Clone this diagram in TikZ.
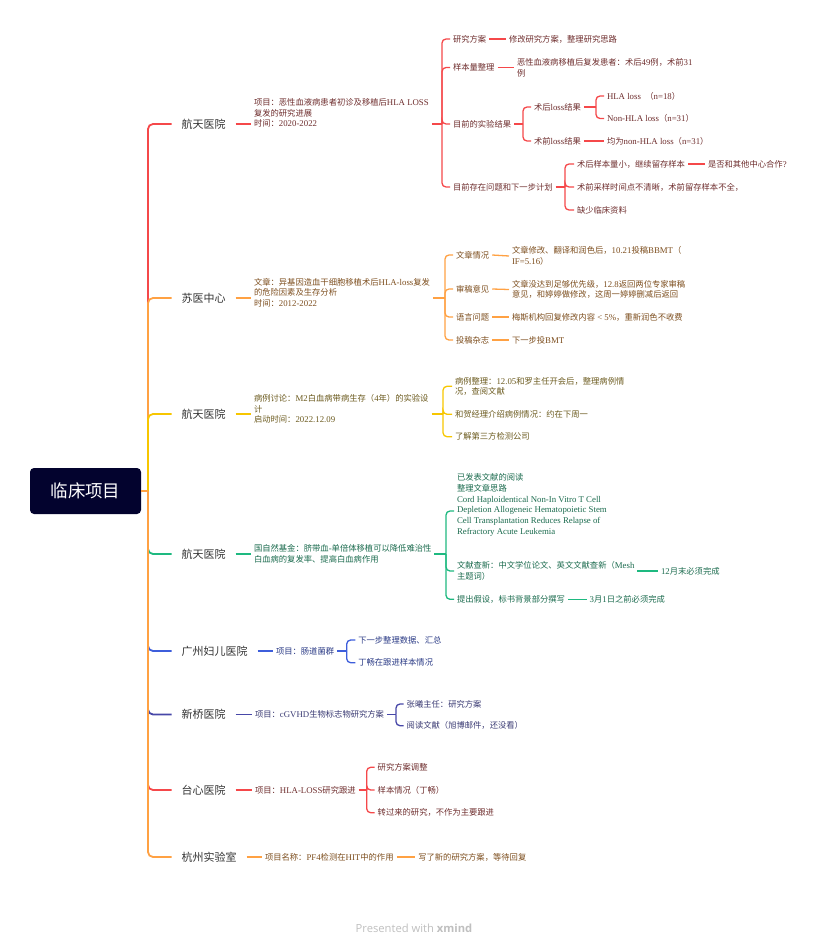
\documentclass[tikz,border=0pt]{standalone}
\usepackage{fontspec}
\setmainfont{Liberation Serif}
\newfontfamily\cjk[Scale=0.9444]{Noto Sans CJK SC}
\newfontfamily\wmfont{Open Sans}
% Chinese characters switch to the CJK font by themselves
\XeTeXinterchartokenstate=1
\newXeTeXintercharclass\cjkclass
\newcount\cjkc
\cjkc="3000
\loop\XeTeXcharclass\cjkc=\cjkclass\ifnum\cjkc<"9FFF\advance\cjkc by 1\repeat
\cjkc="FF00
\loop\XeTeXcharclass\cjkc=\cjkclass\ifnum\cjkc<"FFEF\advance\cjkc by 1\repeat
\XeTeXinterchartoks 0 \cjkclass={\begingroup\cjk}
\XeTeXinterchartoks 4095 \cjkclass={\begingroup\cjk}
\XeTeXinterchartoks \cjkclass 0={\endgroup}
\XeTeXinterchartoks \cjkclass 4095={\endgroup}

\definecolor{rootnavy}{HTML}{03032E}
\definecolor{headgray}{HTML}{333333}
\definecolor{lred}{HTML}{F5484A}
\definecolor{lorange}{HTML}{FFA143}
\definecolor{lyellow}{HTML}{F7C600}
\definecolor{lgreen}{HTML}{1EB980}
\definecolor{lblue}{HTML}{3D5EDB}
\definecolor{lindigo}{HTML}{4747A8}
\definecolor{cred}{HTML}{6E2D2D}
\definecolor{corange}{HTML}{7D4E1E}
\definecolor{cyellow}{HTML}{6B5A1E}
\definecolor{cgreen}{HTML}{1B6B4E}
\definecolor{cblue}{HTML}{2A3A85}
\definecolor{cindigo}{HTML}{3A3A73}

\begin{document}
\begin{tikzpicture}[x=1pt,y=-1pt,
  hd/.style={anchor=west, xshift=-10pt, inner sep=0pt, outer sep=10pt, text=headgray, font=\fontsize{11.65}{14}\selectfont},
  tx/.style={anchor=west, xshift=-3pt, inner sep=0pt, outer sep=3pt, align=left, font=\fontsize{8.8}{10.7}\selectfont},
  br/.style={line width=1.8pt, rounded corners=5pt},
  tw/.style={line width=1.3pt, rounded corners=4pt}]
\useasboundingbox (0,0) rectangle (826,943);

\node[fill=rootnavy, rounded corners=4pt, minimum width=111pt, minimum height=46pt, inner sep=0pt, text=white, font=\fontsize{18.5}{20}\selectfont] (root) at (85.5,491) {临床项目};
\coordinate (sp) at (148,491);

% 航天医院 (red)
\node[hd] (h1) at (181.5,124) {航天医院};
\node[tx, text=cred] (p1) at (254,113) {项目：恶性血液病患者初诊及移植后HLA LOSS\\复发的研究进展\\时间：2020-2022};
\coordinate (k1) at (442,124);
\node[tx, text=cred] (a11) at (453,39) {研究方案};
\node[tx, text=cred] (b11) at (509,39) {修改研究方案，整理研究思路};
\node[tx, text=cred] (a12) at (453,67.5) {样本量整理};
\node[tx, text=cred] (b12) at (517,67.5) {恶性血液病移植后复发患者：术后49例，术前31\\例};
\node[tx, text=cred] (a13) at (453,124) {目前的实验结果};
\coordinate (k13) at (523,124);
\node[tx, text=cred] (b131) at (534,107) {术后loss结果};
\coordinate (k131) at (596,107);
\node[tx, text=cred] (c131) at (607,96) {HLA loss~~（n=18）};
\node[tx, text=cred] (c132) at (607,118.5) {Non-HLA loss（n=31）};
\node[tx, text=cred] (b132) at (534,141) {术前loss结果};
\node[tx, text=cred] (c133) at (607,141) {均为non-HLA loss（n=31）};
\node[tx, text=cred] (a14) at (453,187) {目前存在问题和下一步计划};
\coordinate (k14) at (565,187);
\node[tx, text=cred] (b141) at (577,164) {术后样本量小，继续留存样本};
\node[tx, text=cred] (c141) at (708,164) {是否和其他中心合作?};
\node[tx, text=cred] (b142) at (577,187) {术前采样时间点不清晰，术前留存样本不全，};
\node[tx, text=cred] (b143) at (577,210) {缺少临床资料};

\draw[br, draw=lred] (sp) |- (h1.west);
\draw[br, draw=lred] (h1.east) -- (h1.east -| p1.west);
\draw[tw, draw=lred] (p1.east |- k1) -- (k1);
\draw[tw, draw=lred] (k1) |- (a11.west);
\draw[tw, draw=lred] (k1) |- (a12.west);
\draw[tw, draw=lred] (k1) |- (a13.west);
\draw[tw, draw=lred] (k1) |- (a14.west);
\draw[tw, draw=lred] (a11.east) -- (b11.west);
\draw[tw, draw=lred] (a12.east) -- (b12.west);
\draw[tw, draw=lred] (a13.east) -- (k13);
\draw[tw, draw=lred] (k13) |- (b131.west);
\draw[tw, draw=lred] (k13) |- (b132.west);
\draw[tw, draw=lred] (b131.east) -- (k131);
\draw[tw, draw=lred] (k131) |- (c131.west);
\draw[tw, draw=lred] (k131) |- (c132.west);
\draw[tw, draw=lred] (b132.east) -- (c133.west);
\draw[tw, draw=lred] (a14.east) -- (k14);
\draw[tw, draw=lred] (k14) |- (b141.west);
\draw[tw, draw=lred] (k14) |- (b142.west);
\draw[tw, draw=lred] (k14) |- (b143.west);
\draw[tw, draw=lred] (b141.east) -- (c141.west);

% 苏医中心 (orange)
\node[hd] (h2) at (181.5,298) {苏医中心};
\node[tx, text=corange] (p2) at (254,292.5) {文章：异基因造血干细胞移植术后HLA-loss复发\\的危险因素及生存分析\\时间：2012-2022};
\coordinate (k2) at (445,298);
\node[tx, text=corange] (a21) at (456,255) {文章情况};
\node[tx, text=corange] (b21) at (512,256) {文章修改、翻译和润色后，10.21投稿BBMT（\\IF=5.16）};
\node[tx, text=corange] (a22) at (456,289) {审稿意见};
\node[tx, text=corange] (b22) at (512,289.5) {文章没达到足够优先级，12.8返回两位专家审稿\\意见，和婷婷做修改，这周一婷婷删减后返回};
\node[tx, text=corange] (a23) at (456,317) {语言问题};
\node[tx, text=corange] (b23) at (512,317) {梅斯机构回复修改内容 < 5\%，重新润色不收费};
\node[tx, text=corange] (a24) at (456,340) {投稿杂志};
\node[tx, text=corange] (b24) at (512,340) {下一步投BMT};

\draw[br, draw=lorange] (sp) |- (h2.west);
\draw[br, draw=lorange] (h2.east) -- (h2.east -| p2.west);
\draw[tw, draw=lorange] (p2.east |- k2) -- (k2);
\draw[tw, draw=lorange] (k2) |- (a21.west);
\draw[tw, draw=lorange] (k2) |- (a22.west);
\draw[tw, draw=lorange] (k2) |- (a23.west);
\draw[tw, draw=lorange] (k2) |- (a24.west);
\draw[tw, draw=lorange] (a21.east) -- (b21.west);
\draw[tw, draw=lorange] (a22.east) -- (b22.west);
\draw[tw, draw=lorange] (a23.east) -- (b23.west);
\draw[tw, draw=lorange] (a24.east) -- (b24.west);

% 航天医院 (yellow)
\node[hd] (h3) at (181.5,414) {航天医院};
\node[tx, text=cyellow] (p3) at (254,409) {病例讨论：M2白血病带病生存（4年）的实验设\\计\\启动时间：2022.12.09};
\coordinate (k3) at (443,414);
\node[tx, text=cyellow] (a31) at (455,386.3) {病例整理：12.05和罗主任开会后，整理病例情\\况，查阅文献};
\node[tx, text=cyellow] (a32) at (455,414.3) {和贺经理介绍病例情况：约在下周一};
\node[tx, text=cyellow] (a33) at (455,436.7) {了解第三方检测公司};

\draw[br, draw=lyellow] (sp) |- (h3.west);
\draw[br, draw=lyellow] (h3.east) -- (h3.east -| p3.west);
\draw[tw, draw=lyellow] (p3.east |- k3) -- (k3);
\draw[tw, draw=lyellow] (k3) |- (a31.west);
\draw[tw, draw=lyellow] (k3) |- (a32.west);
\draw[tw, draw=lyellow] (k3) |- (a33.west);

% 航天医院 (green)
\node[hd] (h4) at (181.5,554) {航天医院};
\node[tx, text=cgreen] (p4) at (254,554) {国自然基金：脐带血-单倍体移植可以降低难治性\\白血病的复发率、提高白血病作用};
\coordinate (k4) at (446,554);
\node[tx, text=cgreen] (a41) at (457,511) {已发表文献的阅读\\整理文章思路\\Cord Haploidentical Non-In Vitro T Cell\\Depletion Allogeneic Hematopoietic Stem\\Cell Transplantation Reduces Relapse of\\Refractory Acute Leukemia\\\strut};
\node[tx, text=cgreen] (a42) at (457,571) {文献查新：中文学位论文、英文文献查新（Mesh\\主题词）};
\node[tx, text=cgreen] (b42) at (661,571) {12月末必须完成};
\node[tx, text=cgreen] (a43) at (457,599.3) {提出假设，标书背景部分撰写};
\node[tx, text=cgreen] (b43) at (589.7,599.3) {3月1日之前必须完成};

\draw[br, draw=lgreen] (sp) |- (h4.west);
\draw[br, draw=lgreen] (h4.east) -- (h4.east -| p4.west);
\draw[tw, draw=lgreen] (p4.east |- k4) -- (k4);
\draw[tw, draw=lgreen] (k4) |- (a41.west);
\draw[tw, draw=lgreen] (k4) |- (a42.west);
\draw[tw, draw=lgreen] (k4) |- (a43.west);
\draw[tw, draw=lgreen] (a42.east |- b42) -- (b42.west);
\draw[tw, draw=lgreen] (a43.east) -- (b43.west);

% 广州妇儿医院 (blue)
\node[hd] (h5) at (181.5,651) {广州妇儿医院};
\node[tx, text=cblue] (p5) at (276,651) {项目：肠道菌群};
\coordinate (k5) at (346.7,651);
\node[tx, text=cblue] (a51) at (358.3,640) {下一步整理数据、汇总};
\node[tx, text=cblue] (a52) at (358.3,662.7) {丁畅在跟进样本情况};

\draw[br, draw=lblue] (sp) |- (h5.west);
\draw[br, draw=lblue] (h5.east) -- (p5.west);
\draw[tw, draw=lblue] (p5.east) -- (k5);
\draw[tw, draw=lblue] (k5) |- (a51.west);
\draw[tw, draw=lblue] (k5) |- (a52.west);

% 新桥医院 (indigo)
\node[hd] (h6) at (181.5,714.5) {新桥医院};
\node[tx, text=cindigo] (p6) at (255,714.5) {项目：cGVHD生物标志物研究方案};
\coordinate (k6) at (396,714.5);
\node[tx, text=cindigo] (a61) at (406.7,704) {张曦主任：研究方案};
\node[tx, text=cindigo] (a62) at (406.7,725.7) {阅读文献（旭博邮件，还没看）};

\draw[br, draw=lindigo] (sp) |- (h6.west);
\draw[br, draw=lindigo] (h6.east) -- (p6.west);
\draw[tw, draw=lindigo] (p6.east) -- (k6);
\draw[tw, draw=lindigo] (k6) |- (a61.west);
\draw[tw, draw=lindigo] (k6) |- (a62.west);

% 台心医院 (red)
\node[hd] (h7) at (181.5,790) {台心医院};
\node[tx, text=cred] (p7) at (255,790) {项目：HLA-LOSS研究跟进};
\coordinate (k7) at (366.7,790);
\node[tx, text=cred] (a71) at (377.7,767.3) {研究方案调整};
\node[tx, text=cred] (a72) at (377.7,790) {样本情况（丁畅）};
\node[tx, text=cred] (a73) at (377.7,812.7) {转过来的研究，不作为主要跟进};

\draw[br, draw=lred] (sp) |- (h7.west);
\draw[br, draw=lred] (h7.east) -- (p7.west);
\draw[tw, draw=lred] (p7.east) -- (k7);
\draw[tw, draw=lred] (k7) |- (a71.west);
\draw[tw, draw=lred] (k7) |- (a72.west);
\draw[tw, draw=lred] (k7) |- (a73.west);

% 杭州实验室 (orange)
\node[hd] (h8) at (181.5,857) {杭州实验室};
\node[tx, text=corange] (p8) at (265,857) {项目名称：PF4检测在HIT中的作用};
\node[tx, text=corange] (b8) at (418.3,857) {写了新的研究方案，等待回复};

\draw[br, draw=lorange] (sp) |- (h8.west);
\draw[br, draw=lorange] (h8.east) -- (p8.west);
\draw[tw, draw=lorange] (p8.east) -- (b8.west);
\draw[br, draw=lorange] (root.east) -- (sp);

\node[text=black!25, font=\wmfont\fontsize{11.2}{13}\selectfont] (wm) at (414,928) {Presented with \textbf{xmind}};
\end{tikzpicture}
\end{document}
